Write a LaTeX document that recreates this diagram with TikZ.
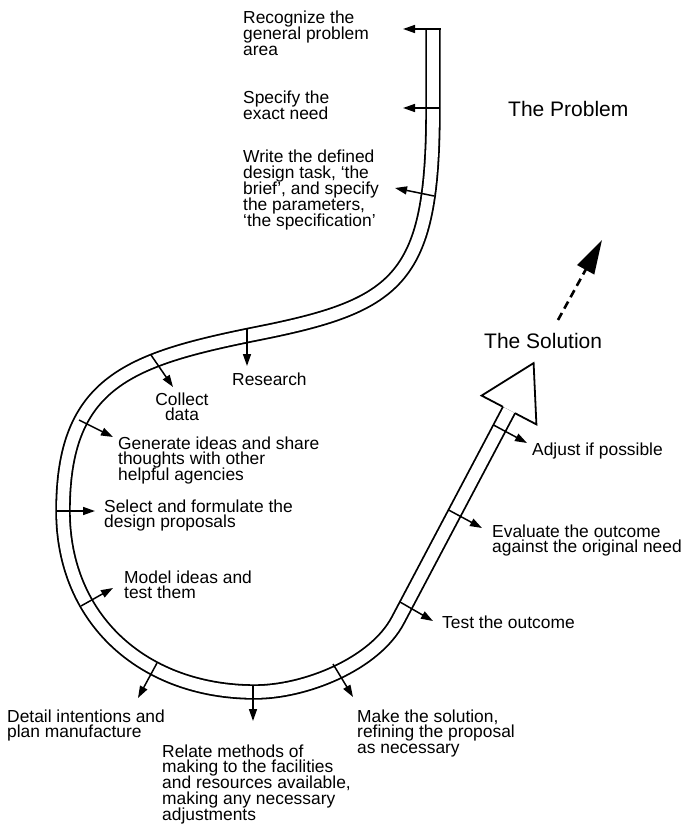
\documentclass[tikz,border=0pt]{standalone}
\usepackage{fontspec}
\setmainfont{Liberation Sans}
\usetikzlibrary{arrows.meta}
\newcommand{\mlL}[1]{\vtop{\baselineskip=15.9pt\lineskiplimit=-30pt\lineskip=0pt\halign{##\hfil\cr#1\crcr}}}
\newcommand{\mlC}[1]{\vtop{\baselineskip=15.9pt\lineskiplimit=-30pt\lineskip=0pt\halign{\hfil##\hfil\cr#1\crcr}}}
\begin{document}
\begin{tikzpicture}[x=1pt,y=-1pt,
  band/.style={draw=black,line width=1.8pt,double=white,double distance=11.8pt},
  tick/.style={line width=1.5pt,-{Triangle[length=12pt,width=8pt]}},
  headline/.style={line width=1.8pt,line join=miter},
  dasharrow/.style={line width=2.6pt,dash pattern=on 8pt off 5pt,-{Triangle[length=34pt,width=19pt]}},
  lbl/.style={inner sep=0pt,anchor=base west,font=\fontsize{17.4}{16}\selectfont},
  lblc/.style={inner sep=0pt,anchor=base,font=\fontsize{17.4}{16}\selectfont},
  big/.style={inner sep=0pt,anchor=base west,font=\fontsize{21}{24}\selectfont}]
\useasboundingbox (0,0) rectangle (684,826);

% the band
\draw[band] (433,29) -- (433,108)
  .. controls (433,278) and (400,305) .. (260,333)
  .. controls (130,359) and (63,381) .. (63,511)
  .. controls (63,621) and (145,692) .. (255,692)
  .. controls (305,692) and (374.75,664.25) .. (398,620) -- (509,410);

% hollow arrow head
\coordinate (hL) at (503,406.8);
\coordinate (hLB) at (481.6,395.6);
\coordinate (hT) at (533.6,363.1);
\coordinate (hRB) at (536.4,424.4);
\coordinate (hR) at (515,413.2);
\draw[headline] (hL) -- (hLB) -- (hT) -- (hRB) -- (hR);

% dashed arrow
\coordinate (dS) at (558,320);
\coordinate (dE) at (602,240);
\draw[dasharrow] (dS) -- (dE);

% labels
\node[lbl] (recognize) at (243,24) {\mlL{Recognize the\cr general problem\cr area}};
\node[lbl] (specify) at (243,104) {\mlL{Specify the\cr exact need}};
\node[lbl] (write) at (243,162.7) {\mlL{Write the defined\cr design task, `the\cr brief', and specify\cr the parameters,\cr `the specification'}};
\node[lbl] (research) at (232,385) {Research};
\node[lblc] (collect) at (182,405) {\mlC{Collect\cr data}};
\node[lbl] (generate) at (118,449) {\mlL{Generate ideas and share\cr thoughts with other\cr helpful agencies}};
\node[lbl] (select) at (104,512) {\mlL{Select and formulate the\cr design proposals}};
\node[lbl] (model) at (124,583) {\mlL{Model ideas and\cr test them}};
\node[lbl] (detail) at (7,722) {\mlL{Detail intentions and\cr plan manufacture}};
\node[lbl] (relate) at (162,757) {\mlL{Relate methods of\cr making to the facilities\cr and resources available,\cr making any necessary\cr adjustments}};
\node[lbl] (make) at (357,722) {\mlL{Make the solution,\cr refining the proposal\cr as necessary}};
\node[lbl] (test) at (442,628) {Test the outcome};
\node[lbl] (evaluate) at (492,537) {\mlL{Evaluate the outcome\cr against the original need}};
\node[lbl] (adjust) at (532,455) {Adjust if possible};
\node[big] (problem) at (508,116.7) {The Problem};
\node[big] (solution) at (484,348) {The Solution};

% ticks
\coordinate (a1) at (440.8,29);   \coordinate (b1) at (403,29);
\coordinate (a2) at (440,108);    \coordinate (b2) at (403,108);
\coordinate (a3) at (434,196);    \coordinate (b3) at (395,188);
\coordinate (a4) at (247,328.5);  \coordinate (b4) at (247,366);
\coordinate (a5) at (151,355);    \coordinate (b5) at (173,387);
\coordinate (a6) at (79,420);     \coordinate (b6) at (113,437);
\coordinate (a7) at (56,511);     \coordinate (b7) at (95,511);
\coordinate (a8) at (81,606);     \coordinate (b8) at (113,588);
\coordinate (a9) at (157,663);    \coordinate (b9) at (138,698);
\coordinate (a10) at (253,685);   \coordinate (b10) at (253,721);
\coordinate (a11) at (333,664);   \coordinate (b11) at (353,697);
\coordinate (a12) at (400,602);   \coordinate (b12) at (433,621);
\coordinate (a13) at (448.6,510); \coordinate (b13) at (482,528);
\coordinate (a14) at (493.5,425); \coordinate (b14) at (527,443);
\foreach \i in {1,...,14} {\draw[tick] (a\i) -- (b\i);}
\end{tikzpicture}
\end{document}
